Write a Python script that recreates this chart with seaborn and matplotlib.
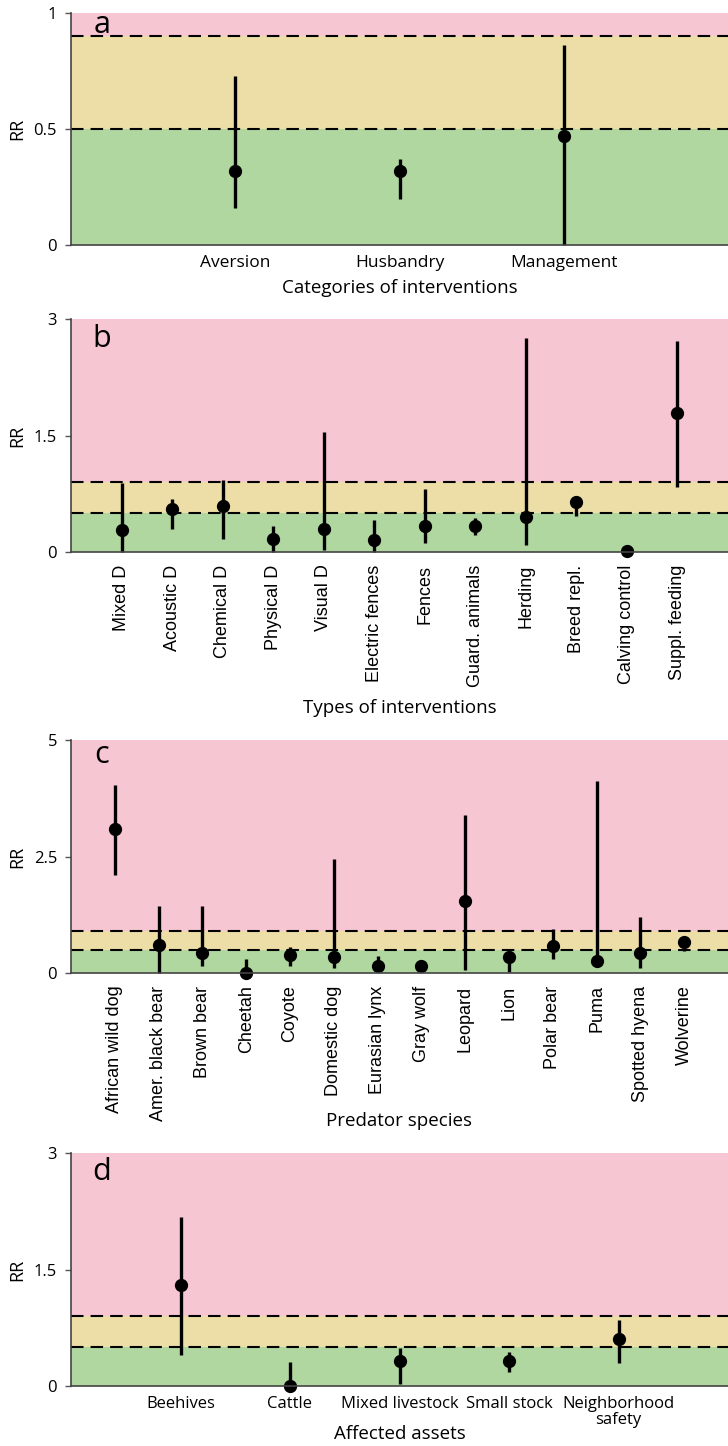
import matplotlib
matplotlib.use("Agg")
import matplotlib.pyplot as plt
import seaborn as sns
import pandas as pd

# a - categories of interventions
cat_a = ["Aversion", "Husbandry", "Management"]
rr_a = [0.32, 0.32, 0.47]
lo_a = [0.16, 0.20, 0.0]
hi_a = [0.73, 0.37, 0.86]

# b - types of interventions
cat_b = ["Mixed D", "Acoustic D", "Chemical D", "Physical D", "Visual D",
         "Electric fences", "Fences", "Guard. animals", "Herding",
         "Breed repl.", "Calving control", "Suppl. feeding"]
rr_b = [0.28, 0.56, 0.59, 0.17, 0.29, 0.15, 0.33, 0.34, 0.45, 0.64, 0.01, 1.79]
lo_b = [0.0, 0.30, 0.17, 0.0, 0.03, 0.0, 0.11, 0.22, 0.09, 0.46, 0.0, 0.84]
hi_b = [0.89, 0.68, 0.93, 0.33, 1.54, 0.41, 0.81, 0.44, 2.76, 0.72, 0.02, 2.72]

# c - predator species
cat_c = ["African wild dog", "Amer. black bear", "Brown bear", "Cheetah",
         "Coyote", "Domestic dog", "Eurasian lynx", "Gray wolf", "Leopard",
         "Lion", "Polar bear", "Puma", "Spotted hyena", "Wolverine"]
rr_c = [3.08, 0.61, 0.42, 0.01, 0.38, 0.34, 0.16, 0.16, 1.55, 0.34, 0.57, 0.25, 0.43, 0.66]
lo_c = [2.10, 0.0, 0.16, 0.0, 0.16, 0.11, 0.03, 0.03, 0.07, 0.03, 0.29, 0.17, 0.11, 0.47]
hi_c = [4.03, 1.44, 1.44, 0.30, 0.56, 2.44, 0.36, 0.27, 3.40, 0.51, 0.95, 4.13, 1.20, 0.73]

# d - affected assets
cat_d = ["Beehives", "Cattle", "Mixed livestock", "Small stock", "Neighborhood\nsafety"]
rr_d = [1.30, 0.0, 0.32, 0.32, 0.61]
lo_d = [0.40, 0.0, 0.02, 0.18, 0.29]
hi_d = [2.17, 0.31, 0.49, 0.44, 0.85]

thresholds = [0.5, 0.9]
ymax = [1, 3, 5, 3]
yticks = [[0, 0.5, 1], [0, 1.5, 3], [0, 2.5, 5], [0, 1.5, 3]]
ytick_labels = [["0", "0.5", "1"], ["0", "1.5", "3"], ["0", "2.5", "5"], ["0", "1.5", "3"]]
xtitles = ["Categories of interventions", "Types of interventions",
           "Predator species", "Affected assets"]
letters = ["a", "b", "c", "d"]

sns.set_style("ticks")
plt.rcParams["font.family"] = ["Open Sans", "DejaVu Sans"]
plt.rcParams["text.color"] = "black"
plt.rcParams["axes.labelcolor"] = "black"
plt.rcParams["xtick.color"] = "black"
plt.rcParams["ytick.color"] = "black"

PINK = "#f7c6d3"
YELLOW = "#ecdea6"
GREEN = "#b1d7a1"

fig = plt.figure(figsize=(7.28, 14.46), dpi=100)
H = 1446
# panel top / bottom in pixels
panel_px = [(13, 245), (319, 552), (740, 973), (1153, 1386)]
left = 71 / 728
title_px = [288, 708, 1121, 1434]
letter_base_px = [20, 28, 23, 27]
rotated = [False, True, True, False]
hfont = [12.5, 13, 13, 12]

panels = [(cat_a, rr_a, lo_a, hi_a), (cat_b, rr_b, lo_b, hi_b),
          (cat_c, rr_c, lo_c, hi_c), (cat_d, rr_d, lo_d, hi_d)]

for i, (cats, rr, lo, hi) in enumerate(panels):
    top, bot = panel_px[i]
    ax = fig.add_axes([left, 1 - bot / H, 1 - left, (bot - top) / H])
    n = len(cats)

    ax.axhspan(0, thresholds[0], color=GREEN, lw=0, zorder=0)
    ax.axhspan(thresholds[0], thresholds[1], color=YELLOW, lw=0, zorder=0)
    ax.axhspan(thresholds[1], ymax[i], color=PINK, lw=0, zorder=0)
    for t in thresholds:
        ax.axhline(t, color="black", lw=1.5, dashes=(6, 3.4), zorder=1)

    df = pd.DataFrame({"cat": cats * 3, "rr": rr + lo + hi})
    sns.pointplot(data=df, x="cat", y="rr", order=cats, estimator="median",
                  errorbar=("pi", 100), color="black", marker="o",
                  markersize=7.5, linestyle="none",
                  err_kws={"linewidth": 2.4, "solid_capstyle": "butt"}, ax=ax)
    for ln in ax.lines:
        ln.set_clip_on(False)

    ax.set_xlim(-1, n)
    ax.set_ylim(0, ymax[i])
    ax.set_yticks(yticks[i])
    ax.set_yticklabels(ytick_labels[i], fontsize=12)
    ax.set_xticks(range(n))
    if rotated[i]:
        ax.set_xticklabels(cats, rotation=90, fontsize=hfont[i],
                           family=["Liberation Sans", "DejaVu Sans"])
        ax.tick_params(axis="x", length=0, pad=9)
    else:
        ax.set_xticklabels(cats, fontsize=hfont[i], linespacing=1.05)
        ax.tick_params(axis="x", length=0, pad=7)
    ax.tick_params(axis="y", length=4, width=1, color="#555555", pad=6)

    ax.set_ylabel("RR", fontsize=13)
    ax.yaxis.set_label_coords(-0.082, 0.5)
    ax.yaxis.label.set_va("center")
    ax.set_xlabel(xtitles[i], fontsize=13.5)
    ax.xaxis.set_label_coords(0.5, -(title_px[i] - bot) / (bot - top))
    ax.xaxis.label.set_va("center")

    ax.text(0.047, 1 - letter_base_px[i] / (bot - top), letters[i],
            transform=ax.transAxes, ha="center", va="baseline", fontsize=22)

    for s in ["top", "right"]:
        ax.spines[s].set_visible(False)
    for s in ["left", "bottom"]:
        ax.spines[s].set_color("#444444")
        ax.spines[s].set_linewidth(1.2)

fig.savefig("out.png", dpi=100)
